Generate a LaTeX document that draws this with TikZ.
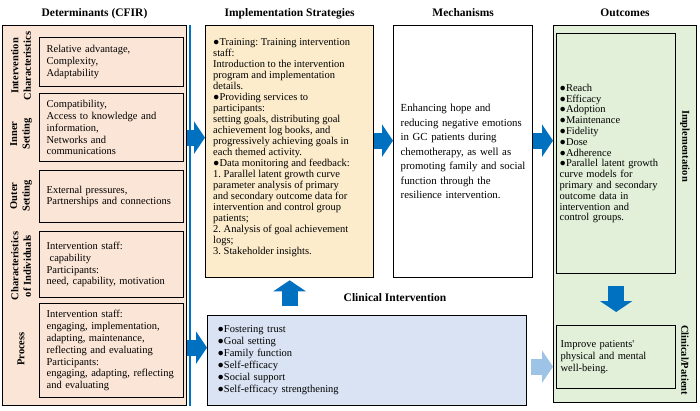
\documentclass[tikz,border=0pt]{standalone}
\usepackage{fontspec}
\setmainfont{Liberation Serif}
\usetikzlibrary{arrows.meta,positioning}
\definecolor{detc}{RGB}{251,229,214}
\definecolor{strc}{RGB}{252,236,204}
\definecolor{clic}{RGB}{218,227,243}
\definecolor{outc}{RGB}{226,240,217}
\definecolor{arrc}{RGB}{0,112,192}
\definecolor{larc}{RGB}{157,195,230}

\begin{document}
\frenchspacing
\begin{tikzpicture}[x=1pt, y=-1pt,
    box/.style={rectangle, draw, line width=1.3pt, anchor=north west, inner sep=0pt, align=left},
    body/.style={font=\fontsize{10.5}{11.8}\selectfont},
    head/.style={font=\fontsize{11.5}{13}\selectfont\bfseries, inner sep=0pt, text height=8pt, text depth=2.5pt},
    side/.style={align=center, inner sep=0pt, font=\fontsize{10.5}{12.5}\selectfont\bfseries},
    bigarrow/.style={arrc, line width=16pt, -{Triangle[length=11pt, width=32pt]}}]

    \useasboundingbox (0,0) rectangle (700,411);

    % determinants (CFIR)
    \node[box, fill=detc, line width=1pt, minimum width=184pt, minimum height=380pt] (det) at (2,25) {};
    \draw[arrc, line width=2.5pt] ([xshift=3pt]det.north east) -- ([xshift=3pt]det.south east);
    \node[head, above=6pt of det] (dettitle) {Determinants (CFIR)};

    \node[box, body, fill=detc, minimum width=144pt, minimum height=49pt, inner xsep=7pt, text width=130pt] (ic) at (39,37)
        {Relative advantage,\\Complexity,\\Adaptability};
    \node[box, body, fill=detc, minimum width=144pt, minimum height=68pt, inner xsep=7pt, text width=130pt] (inset) at (39,93)
        {Compatibility,\\Access to knowledge and\\information,\\Networks and\\communications};
    \node[box, body, fill=detc, minimum width=144pt, minimum height=52pt, inner xsep=7pt, text width=130pt,
        font=\fontsize{10.5}{11}\selectfont] (outset) at (39,170)
        {External pressures,\\Partnerships and connections};
    \node[box, body, fill=detc, minimum width=144pt, minimum height=66pt, inner xsep=7pt, text width=130pt] (indiv) at (39,231)
        {Intervention staff:\\\hspace{3pt}capability\\Participants:\\need, capability, motivation};
    \node[box, body, fill=detc, minimum width=144pt, minimum height=94pt, inner xsep=7pt, text width=130pt] (proc) at (39,303)
        {Intervention staff:\\engaging, implementation,\\adapting, maintenance,\\reflecting and evaluating\\Participants:\\engaging, adapting, reflecting\\and evaluating};

    \node[side, rotate=90] (iclab) at (21,66) {Intervention\\Characteristics};
    \node[side, rotate=90] (inlab) at (21,134) {Inner\\Setting};
    \node[side, rotate=90] (outlab) at (21,196) {Outer\\Setting};
    \node[side, rotate=90] (indlab) at (21,266) {Characteristics\\of Individuals};
    \node[side, rotate=90] (proclab) at (21,349) {Process};

    % implementation strategies
    \node[box, fill=strc, minimum width=168pt, minimum height=252pt] (str) at (205,25) {};
    \node[anchor=north west, inner sep=0pt, align=left, font=\fontsize{10.5}{11}\selectfont]
        (strtext) at ([shift={(8pt,-13pt)}]str.north west)
        {●Training: Training intervention\\staff:\\Introduction to the intervention\\program and implementation\\details.\\
         ●Providing services to\\participants:\\setting goals, distributing goal\\achievement log books, and\\progressively achieving goals in\\each themed activity.\\
         ●Data monitoring and feedback:\\1. Parallel latent growth curve\\parameter analysis of primary\\and secondary outcome data for\\intervention and control group\\patients;\\
         2. Analysis of goal achievement\\logs;\\3. Stakeholder insights.};
    \node[head, above=6pt of str] (strtitle) {Implementation Strategies};

    % clinical intervention
    \node[box, fill=clic, minimum width=319pt, minimum height=90pt, inner xsep=10pt, text width=299pt,
        font=\fontsize{10.5}{12}\selectfont] (cli) at (207,315)
        {●Fostering trust\\●Goal setting\\●Family function\\●Self-efficacy\\●Social support\\●Self-efficacy strengthening};
    \node[head] (clititle) at (395,299) {Clinical Intervention};

    % mechanisms
    \node[box, fill=white, minimum width=139pt, minimum height=252pt, inner xsep=7pt, text width=125pt,
        font=\fontsize{10.8}{14.5}\selectfont] (mech) at (393,25)
        {Enhancing hope and\\reducing negative emotions\\in GC patients during\\chemotherapy, as well as\\promoting family and social\\function through the\\resilience intervention.};
    \node[head, above=6pt of mech] (mechtitle) {Mechanisms};

    % outcomes
    \node[box, fill=outc, line width=1pt, minimum width=143pt, minimum height=377pt] (out) at (553,25) {};
    \node[head, above=6pt of out] (outtitle) {Outcomes};
    \node[box, fill=outc, minimum width=119pt, minimum height=240pt, inner xsep=3pt, text width=113pt,
        font=\fontsize{10.5}{10.8}\selectfont] (impl) at (556,33)
        {●Reach\\●Efficacy\\●Adoption\\●Maintenance\\●Fidelity\\●Dose\\●Adherence\\●Parallel latent growth\\curve models for\\primary and secondary\\outcome data in\\intervention and\\control groups.\\[6pt]};
    \node[box, fill=outc, minimum width=119pt, minimum height=63pt, inner xsep=4pt, text width=111pt,
        font=\fontsize{10.5}{12}\selectfont] (pat) at (556,325)
        {Improve patients\textquotesingle\\physical and mental\\well-being.};
    \node[side, rotate=-90] (impllab) at (685,146) {Implementation};
    \node[side, rotate=-90] (patlab) at (685,360) {Clinical/Patient};

    % arrows
    \coordinate (s1) at ([yshift=14pt]str.west);
    \coordinate (c1) at ([yshift=13pt]cli.west);
    \coordinate (s2) at ([yshift=11pt]str.east);
    \coordinate (m2) at ([yshift=11pt]mech.east);
    \coordinate (c2) at ([yshift=-6pt]cli.east);
    \draw[bigarrow] (det.east |- s1) -- (s1);
    \draw[bigarrow] (det.east |- c1) -- (c1);
    \draw[bigarrow] (s2) -- (s2 -| mech.west);
    \draw[bigarrow] (m2) -- (m2 -| out.west);
    \draw[bigarrow, shorten <=9pt, shorten >=2pt] (str.south |- cli.north) -- (str.south);
    \draw[bigarrow, shorten <=12pt, shorten >=13pt] (impl.south) -- (pat.north);
    \draw[bigarrow, larc, shorten <=4pt] (c2) -- (c2 -| out.west);

\end{tikzpicture}
\end{document}
